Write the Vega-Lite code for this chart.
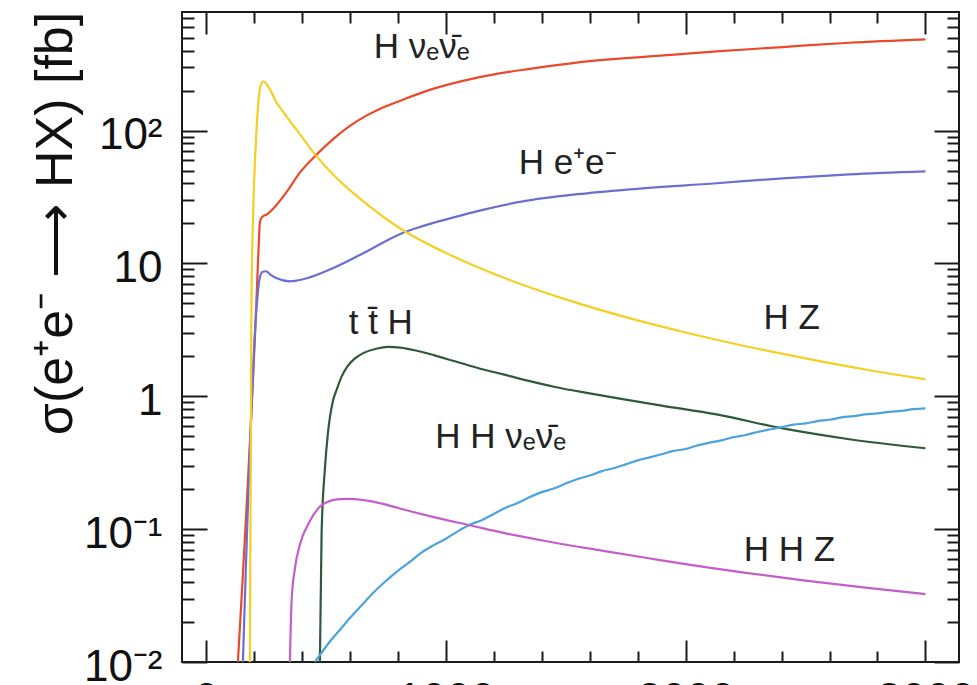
{
  "$schema": "https://vega.github.io/schema/vega-lite/v6.json",
  "width": 777,
  "height": 650,
  "autosize": {"type": "none"},
  "padding": {"left": 182, "top": 12, "right": 18, "bottom": 23},
  "background": "white",
  "config": {
    "font": "Liberation Sans",
    "view": {"stroke": "#1a1a1a", "strokeWidth": 2},
    "axis": {
      "domain": false,
      "grid": false,
      "tickColor": "#1a1a1a",
      "tickWidth": 2,
      "labelFont": "Liberation Sans",
      "labelFontSize": 44,
      "labelColor": "#111111",
      "titleFont": "Liberation Sans",
      "titleColor": "#111111"
    }
  },
  "datasets": {
    "curves": [
      {"p": "Hvv", "s": 133, "v": 0.01},
      {"p": "Hvv", "s": 210, "v": 5.0},
      {"p": "Hvv", "s": 220, "v": 14},
      {"p": "Hvv", "s": 225, "v": 20.5},
      {"p": "Hvv", "s": 233, "v": 22.2},
      {"p": "Hvv", "s": 254, "v": 23.4},
      {"p": "Hvv", "s": 296, "v": 27.8},
      {"p": "Hvv", "s": 338, "v": 34.8},
      {"p": "Hvv", "s": 392, "v": 48.4},
      {"p": "Hvv", "s": 458, "v": 65.0},
      {"p": "Hvv", "s": 529, "v": 85.8},
      {"p": "Hvv", "s": 600, "v": 108.3},
      {"p": "Hvv", "s": 671, "v": 130.0},
      {"p": "Hvv", "s": 738, "v": 149.3},
      {"p": "Hvv", "s": 808, "v": 167.1},
      {"p": "Hvv", "s": 933, "v": 202.3},
      {"p": "Hvv", "s": 1071, "v": 236.6},
      {"p": "Hvv", "s": 1212, "v": 267},
      {"p": "Hvv", "s": 1350, "v": 291},
      {"p": "Hvv", "s": 1488, "v": 315},
      {"p": "Hvv", "s": 1629, "v": 337},
      {"p": "Hvv", "s": 1767, "v": 352},
      {"p": "Hvv", "s": 1850, "v": 361},
      {"p": "Hvv", "s": 2129, "v": 394},
      {"p": "Hvv", "s": 2404, "v": 425},
      {"p": "Hvv", "s": 2683, "v": 458},
      {"p": "Hvv", "s": 3000, "v": 486},

      {"p": "Hee", "s": 154, "v": 0.01},
      {"p": "Hee", "s": 210, "v": 4.4},
      {"p": "Hee", "s": 223, "v": 7.6},
      {"p": "Hee", "s": 235, "v": 8.6},
      {"p": "Hee", "s": 250, "v": 8.73},
      {"p": "Hee", "s": 270, "v": 8.2},
      {"p": "Hee", "s": 295, "v": 7.73},
      {"p": "Hee", "s": 350, "v": 7.33},
      {"p": "Hee", "s": 421, "v": 7.73},
      {"p": "Hee", "s": 529, "v": 9.19},
      {"p": "Hee", "s": 670, "v": 12.3},
      {"p": "Hee", "s": 808, "v": 16.6},
      {"p": "Hee", "s": 900, "v": 19.0},
      {"p": "Hee", "s": 1017, "v": 21.8},
      {"p": "Hee", "s": 1150, "v": 25.2},
      {"p": "Hee", "s": 1321, "v": 29.3},
      {"p": "Hee", "s": 1550, "v": 33.2},
      {"p": "Hee", "s": 1767, "v": 36.1},
      {"p": "Hee", "s": 2129, "v": 40.1},
      {"p": "Hee", "s": 2404, "v": 43.7},
      {"p": "Hee", "s": 2683, "v": 46.8},
      {"p": "Hee", "s": 3000, "v": 49.3},

      {"p": "HZ", "s": 183, "v": 0.01},
      {"p": "HZ", "s": 189.6, "v": 5.19},
      {"p": "HZ", "s": 195.8, "v": 20.7},
      {"p": "HZ", "s": 208.3, "v": 83},
      {"p": "HZ", "s": 220.8, "v": 181},
      {"p": "HZ", "s": 231, "v": 227},
      {"p": "HZ", "s": 239.6, "v": 235},
      {"p": "HZ", "s": 250, "v": 227},
      {"p": "HZ", "s": 266.7, "v": 204},
      {"p": "HZ", "s": 292, "v": 165},
      {"p": "HZ", "s": 321, "v": 139},
      {"p": "HZ", "s": 392, "v": 93.6},
      {"p": "HZ", "s": 458, "v": 65},
      {"p": "HZ", "s": 529, "v": 46.8},
      {"p": "HZ", "s": 671, "v": 27.8},
      {"p": "HZ", "s": 808, "v": 18.4},
      {"p": "HZ", "s": 1000, "v": 12.0},
      {"p": "HZ", "s": 1250, "v": 7.7},
      {"p": "HZ", "s": 1500, "v": 5.36},
      {"p": "HZ", "s": 1750, "v": 3.94},
      {"p": "HZ", "s": 2000, "v": 3.02},
      {"p": "HZ", "s": 2250, "v": 2.38},
      {"p": "HZ", "s": 2500, "v": 1.93},
      {"p": "HZ", "s": 2750, "v": 1.59},
      {"p": "HZ", "s": 3000, "v": 1.34},

      {"p": "ttH", "s": 475, "v": 0.01},
      {"p": "ttH", "s": 482, "v": 0.092},
      {"p": "ttH", "s": 496, "v": 0.287},
      {"p": "ttH", "s": 508, "v": 0.518},
      {"p": "ttH", "s": 529, "v": 0.917},
      {"p": "ttH", "s": 545, "v": 1.12},
      {"p": "ttH", "s": 565, "v": 1.40},
      {"p": "ttH", "s": 590, "v": 1.68},
      {"p": "ttH", "s": 620, "v": 1.92},
      {"p": "ttH", "s": 660, "v": 2.13},
      {"p": "ttH", "s": 710, "v": 2.28},
      {"p": "ttH", "s": 760, "v": 2.35},
      {"p": "ttH", "s": 810, "v": 2.32},
      {"p": "ttH", "s": 870, "v": 2.22},
      {"p": "ttH", "s": 950, "v": 2.04},
      {"p": "ttH", "s": 1030, "v": 1.85},
      {"p": "ttH", "s": 1130, "v": 1.64},
      {"p": "ttH", "s": 1240, "v": 1.46},
      {"p": "ttH", "s": 1350, "v": 1.30},
      {"p": "ttH", "s": 1450, "v": 1.18},
      {"p": "ttH", "s": 1600, "v": 1.05},
      {"p": "ttH", "s": 1725, "v": 0.96},
      {"p": "ttH", "s": 1900, "v": 0.85},
      {"p": "ttH", "s": 2129, "v": 0.73},
      {"p": "ttH", "s": 2400, "v": 0.575},
      {"p": "ttH", "s": 2683, "v": 0.475},
      {"p": "ttH", "s": 3000, "v": 0.406},

      {"p": "HHvv", "s": 454, "v": 0.0100},
      {"p": "HHvv", "s": 480, "v": 0.0116},
      {"p": "HHvv", "s": 520, "v": 0.0145},
      {"p": "HHvv", "s": 560, "v": 0.0176},
      {"p": "HHvv", "s": 600, "v": 0.0214},
      {"p": "HHvv", "s": 650, "v": 0.0268},
      {"p": "HHvv", "s": 700, "v": 0.0335},
      {"p": "HHvv", "s": 750, "v": 0.0407},
      {"p": "HHvv", "s": 800, "v": 0.0486},
      {"p": "HHvv", "s": 850, "v": 0.0566},
      {"p": "HHvv", "s": 900, "v": 0.0668},
      {"p": "HHvv", "s": 950, "v": 0.0758},
      {"p": "HHvv", "s": 1000, "v": 0.0846},
      {"p": "HHvv", "s": 1050, "v": 0.0962},
      {"p": "HHvv", "s": 1100, "v": 0.1078},
      {"p": "HHvv", "s": 1150, "v": 0.1168},
      {"p": "HHvv", "s": 1200, "v": 0.1300},
      {"p": "HHvv", "s": 1250, "v": 0.1448},
      {"p": "HHvv", "s": 1300, "v": 0.1572},
      {"p": "HHvv", "s": 1350, "v": 0.1745},
      {"p": "HHvv", "s": 1400, "v": 0.1900},
      {"p": "HHvv", "s": 1450, "v": 0.2020},
      {"p": "HHvv", "s": 1500, "v": 0.2205},
      {"p": "HHvv", "s": 1550, "v": 0.2385},
      {"p": "HHvv", "s": 1600, "v": 0.2530},
      {"p": "HHvv", "s": 1650, "v": 0.2735},
      {"p": "HHvv", "s": 1700, "v": 0.2875},
      {"p": "HHvv", "s": 1750, "v": 0.3070},
      {"p": "HHvv", "s": 1800, "v": 0.3290},
      {"p": "HHvv", "s": 1850, "v": 0.3465},
      {"p": "HHvv", "s": 1900, "v": 0.3660},
      {"p": "HHvv", "s": 1950, "v": 0.3880},
      {"p": "HHvv", "s": 2000, "v": 0.4010},
      {"p": "HHvv", "s": 2050, "v": 0.4265},
      {"p": "HHvv", "s": 2100, "v": 0.4480},
      {"p": "HHvv", "s": 2150, "v": 0.4660},
      {"p": "HHvv", "s": 2200, "v": 0.4920},
      {"p": "HHvv", "s": 2250, "v": 0.5110},
      {"p": "HHvv", "s": 2300, "v": 0.5380},
      {"p": "HHvv", "s": 2350, "v": 0.5620},
      {"p": "HHvv", "s": 2400, "v": 0.5850},
      {"p": "HHvv", "s": 2450, "v": 0.6110},
      {"p": "HHvv", "s": 2500, "v": 0.6250},
      {"p": "HHvv", "s": 2550, "v": 0.6500},
      {"p": "HHvv", "s": 2600, "v": 0.6660},
      {"p": "HHvv", "s": 2650, "v": 0.6940},
      {"p": "HHvv", "s": 2700, "v": 0.7080},
      {"p": "HHvv", "s": 2750, "v": 0.7300},
      {"p": "HHvv", "s": 2800, "v": 0.7440},
      {"p": "HHvv", "s": 2850, "v": 0.7630},
      {"p": "HHvv", "s": 2900, "v": 0.7760},
      {"p": "HHvv", "s": 2950, "v": 0.7990},
      {"p": "HHvv", "s": 3000, "v": 0.8100},

      {"p": "HHZ", "s": 350, "v": 0.01},
      {"p": "HHZ", "s": 357, "v": 0.0287},
      {"p": "HHZ", "s": 371, "v": 0.0508},
      {"p": "HHZ", "s": 392, "v": 0.0769},
      {"p": "HHZ", "s": 433, "v": 0.1146},
      {"p": "HHZ", "s": 488, "v": 0.154},
      {"p": "HHZ", "s": 558, "v": 0.168},
      {"p": "HHZ", "s": 600, "v": 0.169},
      {"p": "HHZ", "s": 650, "v": 0.166},
      {"p": "HHZ", "s": 738, "v": 0.155},
      {"p": "HHZ", "s": 808, "v": 0.143},
      {"p": "HHZ", "s": 950, "v": 0.123},
      {"p": "HHZ", "s": 1100, "v": 0.107},
      {"p": "HHZ", "s": 1250, "v": 0.093},
      {"p": "HHZ", "s": 1421, "v": 0.0811},
      {"p": "HHZ", "s": 1650, "v": 0.069},
      {"p": "HHZ", "s": 1846, "v": 0.0604},
      {"p": "HHZ", "s": 2000, "v": 0.0545},
      {"p": "HHZ", "s": 2250, "v": 0.0469},
      {"p": "HHZ", "s": 2500, "v": 0.041},
      {"p": "HHZ", "s": 2750, "v": 0.0363},
      {"p": "HHZ", "s": 3000, "v": 0.0324}
    ],
    "labels": [
      {"label": "H νₑν̄ₑ", "s": 900, "v": 349},
      {"label": "H e⁺e⁻", "s": 1508, "v": 46.8},
      {"label": "H Z", "s": 2442, "v": 3.19},
      {"label": "t t̄ H", "s": 729, "v": 2.93},
      {"label": "H H νₑν̄ₑ", "s": 1229, "v": 0.406},
      {"label": "H H Z", "s": 2433, "v": 0.0573}
    ]
  },
  "resolve": {"axis": {"x": "independent", "y": "independent"}},
  "layer": [
    {
      "data": {"name": "curves"},
      "mark": {"type": "line", "strokeWidth": 2.2, "clip": true, "interpolate": "monotone"},
      "encoding": {
        "x": {
          "field": "s", "type": "quantitative",
          "scale": {"domain": [-100, 3140], "nice": false, "zero": false},
          "axis": {"orient": "bottom", "values": [0, 1000, 2000, 3000], "tickSize": -22,
                   "labelPadding": 38, "labelFlush": false, "labelOverlap": false,
                   "format": "d", "title": null}
        },
        "y": {
          "field": "v", "type": "quantitative",
          "scale": {"type": "log", "domain": [0.01, 780], "nice": false},
          "axis": {
            "orient": "left", "values": [0.01, 0.1, 1, 10, 100], "tickSize": -25,
            "labelPadding": 45, "labelOffset": 5, "labelFlush": false, "labelOverlap": false,
            "labelExpr": "datum.value >= 99 ? '10²' : datum.value >= 9 ? '10' : datum.value >= 0.9 ? '1' : datum.value >= 0.09 ? '10⁻¹' : '10⁻²'",
            "title": "σ(e⁺e⁻ ⟶ HX) [fb]",
            "titleFontSize": 52, "titleFontWeight": "normal",
            "titleAngle": -90, "titleAlign": "center", "titleBaseline": "alphabetic",
            "titleX": -111, "titleY": 211
          }
        },
        "color": {
          "field": "p", "type": "nominal",
          "scale": {"domain": ["Hvv", "Hee", "HZ", "ttH", "HHvv", "HHZ"],
                    "range": ["#ea4a2c", "#6c6fd0", "#f5cf22", "#2d5a3b", "#4ba3de", "#c25fc8"]},
          "legend": null
        }
      }
    },
    {
      "data": {"name": "curves"},
      "mark": {"type": "line", "strokeOpacity": 0, "clip": true},
      "encoding": {
        "x": {
          "field": "s", "type": "quantitative",
          "scale": {"domain": [-100, 3140], "nice": false, "zero": false},
          "axis": {"orient": "bottom", "values": [200, 400, 600, 800, 1200, 1400, 1600, 1800, 2200, 2400, 2600, 2800],
                   "tickSize": -11, "labels": false, "title": null}
        },
        "y": {
          "field": "v", "type": "quantitative",
          "scale": {"type": "log", "domain": [0.01, 780], "nice": false},
          "axis": {"orient": "left",
                   "values": [0.02, 0.03, 0.04, 0.05, 0.06, 0.07, 0.08, 0.09, 0.2, 0.3, 0.4, 0.5, 0.6, 0.7, 0.8, 0.9, 2, 3, 4, 5, 6, 7, 8, 9, 20, 30, 40, 50, 60, 70, 80, 90, 200, 300, 400, 500, 600, 700],
                   "tickSize": -12, "labels": false, "title": null}
        },
        "detail": {"field": "p", "type": "nominal"}
      }
    },
    {
      "data": {"name": "curves"},
      "mark": {"type": "line", "strokeOpacity": 0, "clip": true},
      "encoding": {
        "x": {
          "field": "s", "type": "quantitative",
          "scale": {"domain": [-100, 3140], "nice": false, "zero": false},
          "axis": {"orient": "top", "values": [0, 1000, 2000, 3000], "tickSize": -22, "labels": false, "title": null}
        },
        "y": {
          "field": "v", "type": "quantitative",
          "scale": {"type": "log", "domain": [0.01, 780], "nice": false},
          "axis": {"orient": "right", "values": [0.01, 0.1, 1, 10, 100], "tickSize": -25, "labels": false, "title": null}
        },
        "detail": {"field": "p", "type": "nominal"}
      }
    },
    {
      "data": {"name": "curves"},
      "mark": {"type": "line", "strokeOpacity": 0, "clip": true},
      "encoding": {
        "x": {
          "field": "s", "type": "quantitative",
          "scale": {"domain": [-100, 3140], "nice": false, "zero": false},
          "axis": {"orient": "top", "values": [200, 400, 600, 800, 1200, 1400, 1600, 1800, 2200, 2400, 2600, 2800],
                   "tickSize": -11, "labels": false, "title": null}
        },
        "y": {
          "field": "v", "type": "quantitative",
          "scale": {"type": "log", "domain": [0.01, 780], "nice": false},
          "axis": {"orient": "right",
                   "values": [0.02, 0.03, 0.04, 0.05, 0.06, 0.07, 0.08, 0.09, 0.2, 0.3, 0.4, 0.5, 0.6, 0.7, 0.8, 0.9, 2, 3, 4, 5, 6, 7, 8, 9, 20, 30, 40, 50, 60, 70, 80, 90, 200, 300, 400, 500, 600, 700],
                   "tickSize": -12, "labels": false, "title": null}
        },
        "detail": {"field": "p", "type": "nominal"}
      }
    },
    {
      "data": {"name": "labels"},
      "mark": {"type": "text", "font": "Liberation Sans", "fontSize": 35, "align": "center", "baseline": "alphabetic", "color": "#222222"},
      "encoding": {
        "x": {"field": "s", "type": "quantitative", "scale": {"domain": [-100, 3140], "nice": false, "zero": false}, "axis": null},
        "y": {"field": "v", "type": "quantitative", "scale": {"type": "log", "domain": [0.01, 780], "nice": false}, "axis": null},
        "text": {"field": "label"}
      }
    }
  ]
}
